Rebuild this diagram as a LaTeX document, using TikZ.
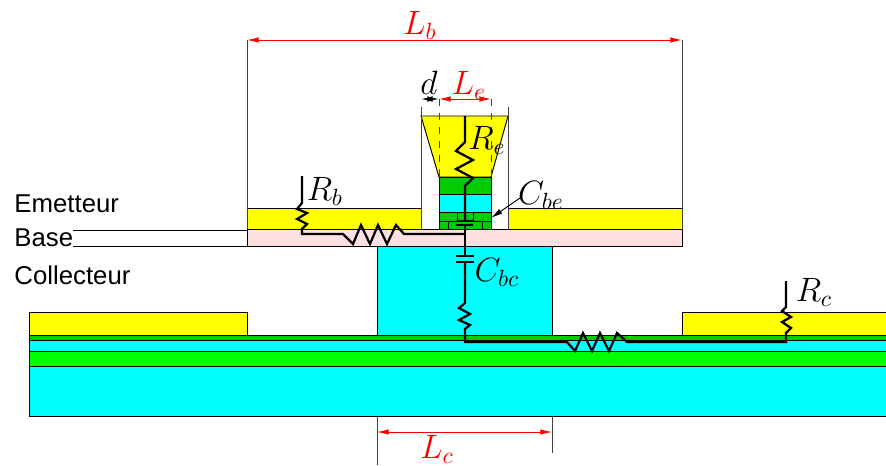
\documentclass[tikz,border=0pt]{standalone}
\usepackage{fontspec}
\usepackage{amsmath}
\usetikzlibrary{arrows.meta}
\newfontfamily\layerfont{Liberation Sans}
\definecolor{layeryellow}{RGB}{255,255,0}
\definecolor{layercyan}{RGB}{0,255,255}
\definecolor{layergreen}{RGB}{0,255,0}
\definecolor{darkgreen}{RGB}{0,204,0}
\definecolor{basepink}{RGB}{255,224,224}
\definecolor{dimred}{RGB}{255,0,0}
\tikzset{
  layer/.style={draw=black,line width=0.4pt},
  wire/.style={black,line width=0.95pt,line join=miter},
  dimarrow/.style={dimred,line width=0.4pt,{Latex[length=5pt,width=2.4pt]}-{Latex[length=5pt,width=2.4pt]}},
  dimblack/.style={black,line width=0.4pt,{Latex[length=5pt,width=2.4pt]}-{Latex[length=5pt,width=2.4pt]}},
  guide/.style={black!75,line width=0.4pt},
  layername/.style={anchor=base west,font=\layerfont\fontsize{11}{12}\selectfont},
  symbol/.style={font=\fontsize{14.4}{16}\selectfont}
}
\begin{document}
\begin{tikzpicture}[x=0.015cm,y=0.015cm]
 	\tikzstyle{every node}+=[inner sep=0pt]
 	\useasboundingbox (0,0) rectangle (886,-465);
 	\draw [layer,fill=layercyan] (29,-366) rectangle (886,-416);
 	\draw [layer,fill=layergreen] (29,-351) rectangle (886,-366);
 	\draw [layer,fill=layercyan] (29,-340) rectangle (886,-351);
 	\draw [layer,fill=darkgreen] (29,-335) rectangle (886,-340);
 	\draw [layer,fill=layeryellow] (29,-312) rectangle (247,-335);
 	\draw [layer,fill=layeryellow] (682,-312) rectangle (886,-335);
 	\draw [layer,fill=layercyan] (377,-246) rectangle (552,-335);
 	\draw [layer,fill=basepink] (247,-229) rectangle (682,-246);
 	\draw [layer,fill=layeryellow] (247,-208) rectangle (421,-229);
 	\draw [layer,fill=layeryellow] (508,-208) rectangle (682,-229);
 	\draw [layer,fill=layeryellow] (421,-116) -- (508,-116) -- (491,-177) -- (439,-177) -- cycle;
 	\draw [layer,fill=darkgreen] (439,-177) rectangle (491,-194);
 	\draw [layer,fill=layercyan] (439,-194) rectangle (491,-212);
 	\draw [layer,fill=darkgreen] (439,-212) rectangle (491,-229);
 	\draw [layer] (439,-221) -- (491,-221);
 	\draw [layer] (457,-212) -- (457,-221);
 	\draw [layer] (473,-212) -- (473,-221);
 	\draw [layer] (448,-221) -- (448,-229);
 	\draw [layer] (482,-221) -- (482,-229);
 	\draw [guide] (247,-40) -- (247,-229);
 	\draw [guide] (682,-40) -- (682,-229);
 	\draw [guide] (421,-107) -- (421,-229);
 	\draw [guide] (508,-107) -- (508,-229);
 	\draw [guide] (377,-416) -- (377,-465);
 	\draw [guide] (552,-416) -- (552,-453);
 	\draw [guide,dashed] (439,-99) -- (439,-177);
 	\draw [guide,dashed] (491,-99) -- (491,-177);
 	\draw [black,line width=0.4pt] (73,-230) -- (247,-230);
 	\draw [black,line width=0.4pt] (73,-246) -- (247,-246);
 	\draw [dimarrow] (247,-40) -- (682,-40);
 	\draw [dimarrow] (377,-432) -- (552,-432);
 	\draw [dimarrow] (439,-99) -- (491,-99);
 	\draw [dimblack] (421,-99) -- (439,-99);
 	\draw [wire] (465,-116) -- (465,-142) -- (456,-151) -- (473,-160) -- (456,-169) -- (473,-178) -- (465,-186) -- (465,-221);
 	\draw [wire] (457,-221) -- (473,-221);
 	\draw [wire] (456,-225) -- (473,-225);
 	\draw [wire] (465,-225) -- (465,-256);
 	\draw [wire] (456,-256) -- (474,-256);
 	\draw [wire] (456,-262) -- (474,-262);
 	\draw [wire] (465,-262) -- (465,-303) -- (459,-308) -- (470,-314) -- (459,-320) -- (470,-325) -- (465,-329) -- (465,-342) -- (567,-342) -- (575,-351) -- (583,-333) -- (592,-351) -- (600,-333) -- (609,-351) -- (617,-333) -- (627,-342) -- (786,-342) -- (786,-333) -- (791,-328) -- (782,-322) -- (791,-317) -- (782,-311) -- (786,-307) -- (786,-281);
 	\draw [wire] (302,-176) -- (302,-203) -- (297,-209) -- (307,-213) -- (297,-219) -- (307,-224) -- (302,-229) -- (302,-234) -- (343,-234) -- (353,-244) -- (361,-225) -- (370,-244) -- (378,-225) -- (387,-244) -- (396,-225) -- (404,-234) -- (465,-234);
 	\draw (14,-212) node [layername] (emetteur) {Emetteur};
 	\draw (14,-246) node [layername] (base) {Base};
 	\draw (14,-284) node [layername] (collecteur) {Collecteur};
 	\draw (420,-25) node [symbol,dimred] (Lb) {$L_b$};
 	\draw (437,-449) node [symbol,dimred] (Lc) {$L_c$};
 	\draw (469,-85) node [symbol,dimred] (Le) {$L_e$};
 	\draw (429,-83) node [symbol] (d) {$d$};
 	\draw (487,-140) node [symbol] (Re) {$R_e$};
 	\draw (325,-191) node [symbol] (Rb) {$R_b$};
 	\draw (814,-292) node [symbol] (Rc) {$R_c$};
 	\draw (497,-272) node [symbol] (Cbc) {$C_{bc}$};
 	\draw (541,-195) node [symbol] (Cbe) {$C_{be}$};
 	\coordinate (CbeStart) at (520,-198);
 	\coordinate (CbeEnd) at (491,-218);
 	\draw [black,line width=0.4pt,-{Latex[length=5pt,width=2.4pt]}] (CbeStart) -- (CbeEnd);
 \end{tikzpicture}
\end{document}
